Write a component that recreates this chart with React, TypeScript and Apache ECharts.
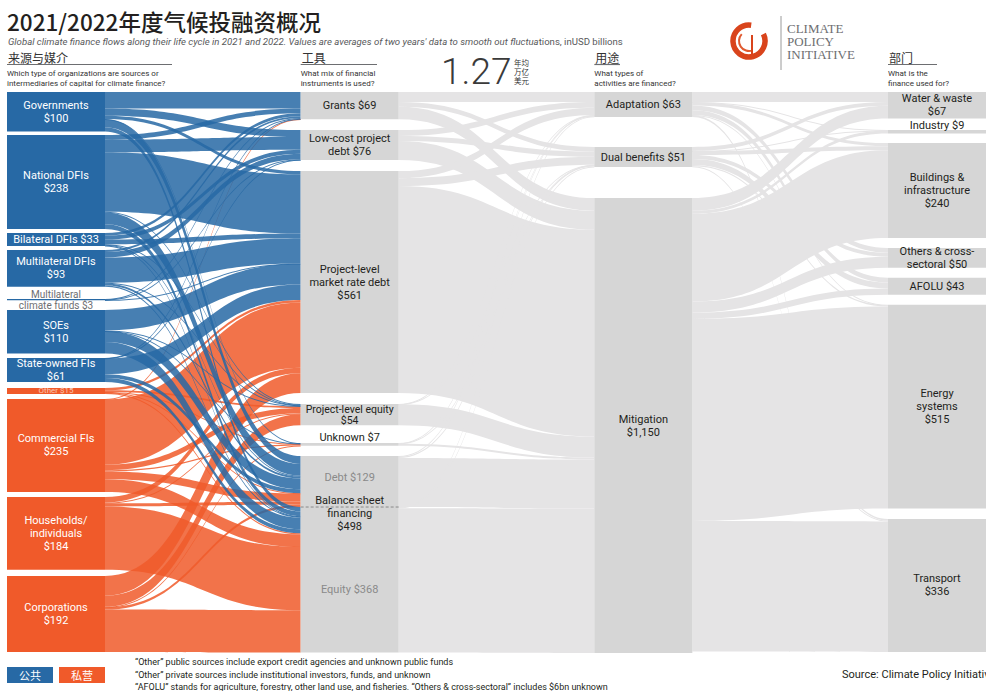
import React, { useEffect, useRef } from 'react';
import * as echarts from 'echarts';

// ---------------- DATA ----------------
const sources = ['Governments', 'National DFIs', 'Bilateral DFIs', 'Multilateral DFIs', 'Multilateral climate funds', 'SOEs', 'State-owned FIs', 'Other', 'Commercial FIs', 'Households/individuals', 'Corporations'];
const sourceDisplay = ['Governments\n', 'National DFIs\n', 'Bilateral DFIs ', 'Multilateral DFIs\n', 'Multilateral\nclimate funds ', 'SOEs\n', 'State-owned FIs\n', 'Other ', 'Commercial FIs\n', 'Households/\nindividuals\n', 'Corporations\n'];
const sourceValues = [100, 238, 33, 93, 3, 110, 61, 15, 235, 184, 192];
const sourcePublic = [true, true, true, true, true, true, true, false, false, false, false];

const instruments = ['Grants', 'Low-cost project debt', 'Project-level market rate debt', 'Project-level equity', 'Unknown', 'Debt', 'Equity'];
const instrumentDisplay = ['Grants ', 'Low-cost project\ndebt ', 'Project-level\nmarket rate debt\n', 'Project-level equity\n', 'Unknown ', 'Debt ', 'Equity '];
const instrumentValues = [69, 76, 561, 54, 7, 129, 368];
const balanceSheetValue = 498;

const uses = ['Adaptation', 'Dual benefits', 'Mitigation'];
const useDisplay = ['Adaptation ', 'Dual benefits ', 'Mitigation\n'];
const useValues = [63, 51, 1150];

const sectors = ['Water & waste', 'Industry', 'Buildings & infrastructure', 'Others & cross-sectoral', 'AFOLU', 'Energy systems', 'Transport'];
const sectorDisplay = ['Water & waste\n', 'Industry ', 'Buildings &\ninfrastructure\n', 'Others & cross-\nsectoral ', 'AFOLU ', 'Energy\nsystems\n', 'Transport\n'];
const sectorValues = [67, 9, 240, 50, 43, 515, 336];

// rows: sources, columns: instruments
const sourceToInstrument = [
  [42, 18, 8, 0, 1, 20, 11],
  [12, 32, 150, 2, 0, 30, 12],
  [7, 10, 12, 1, 0, 2, 1],
  [5, 14, 64, 2, 0, 5, 3],
  [1.5, 1, 0.5, 0, 0, 0, 0],
  [0, 0, 52, 1, 1, 27, 29],
  [0.5, 1, 39.5, 0, 0, 10, 10],
  [0, 0, 6, 4, 1, 1, 3],
  [1, 0, 165, 14, 3, 20, 32],
  [0, 0, 14, 2, 0, 8, 160],
  [0, 0, 50, 28, 1, 6, 107],
];
// rows: instruments, columns: uses
const instrumentToUse = [
  [25, 12, 32],
  [15, 13, 48],
  [18, 20, 523],
  [0.5, 0.5, 53],
  [1, 1, 5],
  [2, 3, 124],
  [1.5, 1.5, 365],
];
// rows: uses, columns: sectors
const useToSector = [
  [25, 1, 8, 12, 12, 1, 4],
  [10, 0.5, 10, 10, 15, 3.5, 2],
  [32, 7.5, 222, 28, 16, 510.5, 330],
];

const footnotes = [
  '“Other” public sources include export credit agencies and unknown public funds',
  '“Other” private sources include institutional investors, funds, and unknown',
  '“AFOLU” stands for agriculture, forestry, other land use, and fisheries. “Others & cross-sectoral” includes $6bn unknown',
];

// ---------------- LAYOUT / STYLE ----------------
const FONT = 'Roboto, "Noto Sans CJK SC", sans-serif';
const CJK = '"Noto Sans CJK SC", sans-serif';
const BLUE = '#2769a5';
const ORANGE = '#f05a2a';
const NODE_GRAY = '#d6d6d6';
const LINK_GRAY = '#e5e4e5';
const L = { left: 7, top: 92, width: 979, height: 560, nodeWidth: 98, nodeGap: 6 };
// gaps (px) above each node in each column
const sourceGaps = [0, 3.4, 3.8, 4, 12.2, 9.8, 4.5, 5.9, 5.1, 5, 6.2];
const instrumentGaps = [0, 10.7, 11, 11, 17.7, 10.2, 0];
const useGaps = [0, 30, 31];
const sectorGaps = [0, 11.5, 9.5, 10, 10, 10, 10.5];

const sum = (a: number[]) => a.reduce((s, v) => s + v, 0);
const fmt = (v: number) => v.toLocaleString('en-US');

function buildOption() {
  const cols = [sourceValues, instrumentValues, useValues, sectorValues];
  const ky = Math.min(...cols.map((c) => (L.height - (c.length - 1) * L.nodeGap) / sum(c)));
  const stack = (values: number[], gaps: number[]) => {
    let y = 0;
    return values.map((v, i) => {
      y += gaps[i];
      const t = y;
      y += v * ky;
      return t;
    });
  };
  const sY = stack(sourceValues, sourceGaps);
  const iY = stack(instrumentValues, instrumentGaps);
  const uY = stack(useValues, useGaps);
  const secY = stack(sectorValues, sectorGaps);
  const kx = (L.width - L.nodeWidth) / 3;
  const colX = [0, 1, 2, 3].map((d) => L.left + d * kx);

  const nodes: any[] = [];
  sources.forEach((n, i) => {
    const pub = sourcePublic[i];
    const lab: any = { formatter: sourceDisplay[i] + '$' + fmt(sourceValues[i]) };
    if (n === 'Multilateral climate funds') Object.assign(lab, { color: '#6d6e71', fontSize: 10, lineHeight: 11 });
    if (n === 'Other') Object.assign(lab, { color: '#fbc7b3', fontSize: 8, lineHeight: 8 });
    nodes.push({ name: n, localY: sY[i] / L.height, itemStyle: { color: pub ? BLUE : ORANGE, borderWidth: 0 }, label: lab });
  });
  instruments.forEach((n, i) => {
    const lab: any = { formatter: instrumentDisplay[i] + '$' + fmt(instrumentValues[i]), color: '#231f20' };
    if (n === 'Project-level equity') Object.assign(lab, { lineHeight: 11, fontSize: 10.5 });
    if (n === 'Unknown') Object.assign(lab, { offset: [0, -7] });
    if (n === 'Debt') Object.assign(lab, { color: '#8a8a8a', offset: [0, -4] });
    if (n === 'Equity') Object.assign(lab, { color: '#8a8a8a', offset: [0, 10] });
    nodes.push({ name: n, localY: iY[i] / L.height, itemStyle: { color: NODE_GRAY, borderWidth: 0 }, label: lab });
  });
  uses.forEach((n, i) => {
    nodes.push({ name: n, localY: uY[i] / L.height, itemStyle: { color: NODE_GRAY, borderWidth: 0 }, label: { formatter: useDisplay[i] + '$' + fmt(useValues[i]), color: '#231f20' } });
  });
  sectors.forEach((n, i) => {
    const lab: any = { formatter: sectorDisplay[i] + '$' + fmt(sectorValues[i]), color: '#231f20' };
    if (n === 'Industry') Object.assign(lab, { offset: [0, -6] });
    nodes.push({ name: n, localY: secY[i] / L.height, itemStyle: { color: NODE_GRAY, borderWidth: 0 }, label: lab });
  });

  const links: any[] = [];
  // private first, public drawn on top
  [false, true].forEach((pass) => {
    sourceToInstrument.forEach((row, i) => {
      if (sourcePublic[i] !== pass) return;
      row.forEach((v, j) => {
        if (v > 0) links.push({ source: sources[i], target: instruments[j], value: v, lineStyle: { color: pass ? BLUE : ORANGE, opacity: 0.85 } });
      });
    });
  });
  instrumentToUse.forEach((row, i) => row.forEach((v, j) => {
    if (v > 0) links.push({ source: instruments[i], target: uses[j], value: v, lineStyle: { color: LINK_GRAY, opacity: 1 } });
  }));
  useToSector.forEach((row, i) => row.forEach((v, j) => {
    if (v > 0) links.push({ source: uses[i], target: sectors[j], value: v, lineStyle: { color: LINK_GRAY, opacity: 1 } });
  }));

  const T = (x: number, y: number, text: string, o: any = {}) => ({
    type: 'text', x, y, z: 100, silent: true,
    style: {
      text, fill: o.fill || '#231f20', fontSize: o.fontSize || 11, fontFamily: o.fontFamily || FONT,
      fontWeight: o.fontWeight || 'normal', fontStyle: o.fontStyle || 'normal',
      align: o.align || 'left', textAlign: o.align || 'left', verticalAlign: 'middle', textVerticalAlign: 'middle',
      lineHeight: o.lineHeight, rich: o.rich,
    },
  });
  const Ln = (x1: number, y1: number, x2: number, y2: number, stroke: string, lineWidth = 1, lineDash?: number[]) => ({
    type: 'line', z: 100, silent: true, shape: { x1, y1, x2, y2 }, style: { stroke, lineWidth, lineDash },
  });

  const yDash = L.top + iY[6];
  const c2 = colX[1] + L.nodeWidth / 2;
  const headers = [
    { x: 7, t: '来源与媒介', u: 172, d: ['Which type of organizations are sources or', 'intermediaries of capital for climate finance?'] },
    { x: colX[1], t: '工具', u: 377, d: ['What mix of financial', 'instruments is used?'] },
    { x: colX[2], t: '用途', u: 620, d: ['What types of', 'activities are financed?'] },
    { x: colX[3], t: '部门', u: 937, d: ['What is the', 'finance used for?'] },
  ];
  const graphics: any[] = [
    T(7, 21, '2021/2022年度气候投融资概况', { fontSize: 22.5, fontWeight: 500, fontFamily: CJK, fill: '#231f20' }),
    T(8, 41, '{i|Global climate finance flows along their life cycle in 2021 and 2022. Values are averages of two years\' data to smooth out fluctua}{n|tions, inUSD billions}', {
      rich: {
        i: { fontStyle: 'italic', fontSize: 9.6, fontFamily: FONT, fill: '#58595b' },
        n: { fontSize: 9.6, fontFamily: FONT, fill: '#58595b' },
      },
    }),
    T(441, 71, '1.27', { fontSize: 37, fontWeight: 300, fill: '#3a3a3a' }),
    T(514, 71, '年均\n万亿\n美元', { fontSize: 7.5, lineHeight: 9, fontFamily: CJK, fill: '#333' }),
    // logo
    { type: 'arc', z: 100, silent: true, shape: { cx: 749, cy: 41, r: 16, startAngle: -0.45, endAngle: 4.85, clockwise: true }, style: { stroke: '#d9441c', lineWidth: 5.5, fill: 'none' } },
    { type: 'arc', z: 100, silent: true, shape: { cx: 749, cy: 41, r: 10, startAngle: 1.2, endAngle: 3.9, clockwise: true }, style: { stroke: '#e05a30', lineWidth: 2, fill: 'none' } },
    Ln(752, 35, 752, 56, '#d9441c', 2),
    Ln(781, 16, 781, 70, '#9a9a9a', 1),
    T(787, 41, 'CLIMATE\nPOLICY\nINITIATIVE', { fontSize: 13, lineHeight: 13, fontFamily: '"Liberation Serif", serif', fill: '#6d6e71' }),
    // balance sheet annotation
    Ln(colX[1], yDash, colX[1] + L.nodeWidth, yDash, '#8a8a8a', 1, [3, 2]),
    T(c2, yDash + 6, 'Balance sheet\nfinancing\n$' + fmt(balanceSheetValue), { align: 'center', lineHeight: 13 }),
    // legend
    { type: 'rect', z: 100, silent: true, shape: { x: 7, y: 667, width: 46, height: 16 }, style: { fill: BLUE } },
    { type: 'rect', z: 100, silent: true, shape: { x: 59, y: 667, width: 46, height: 16 }, style: { fill: ORANGE } },
    T(30, 675, '公共', { align: 'center', fill: '#fff', fontFamily: CJK, fontSize: 11 }),
    T(82, 675, '私营', { align: 'center', fill: '#fff', fontFamily: CJK, fontSize: 11 }),
    T(842, 674, 'Source: Climate Policy Initiative', { fontSize: 11 }),
  ];
  footnotes.forEach((f, i) => graphics.push(T(135, 662 + i * 12.5, f, { fontSize: 9 })));
  headers.forEach((h) => {
    graphics.push(T(h.x + 1, 57, h.t, { fontSize: 12, fontFamily: CJK, fill: '#333' }));
    graphics.push(Ln(h.x, 64.5, h.u, 64.5, '#6d6e71', 1.2));
    graphics.push(T(h.x, 78, h.d.join('\n'), { fontSize: 8, lineHeight: 10, fill: '#333' }));
  });

  return {
    animation: false,
    backgroundColor: '#fff',
    graphic: { elements: graphics },
    series: [
      {
        type: 'sankey',
        left: L.left,
        top: L.top,
        width: L.width,
        height: L.height,
        nodeWidth: L.nodeWidth,
        nodeGap: L.nodeGap,
        layoutIterations: 0,
        draggable: false,
        silent: true,
        emphasis: { disabled: true, focus: 'none' },
        label: {
          show: true,
          position: 'inside',
          color: '#fff',
          fontFamily: FONT,
          fontSize: 11,
          lineHeight: 13,
          align: 'center',
        },
        lineStyle: { curveness: 0.5 },
        data: nodes,
        links,
      },
    ],
  };
}

export default function App() {
  const ref = useRef<HTMLDivElement>(null);
  useEffect(() => {
    const chart = echarts.init(ref.current!, null, { renderer: 'svg' });
    chart.setOption(buildOption() as any);
    return () => chart.dispose();
  }, []);
  return <div ref={ref} style={{ position: 'absolute', left: 0, top: 0, width: 986, height: 691, background: '#fff' }} />;
}
